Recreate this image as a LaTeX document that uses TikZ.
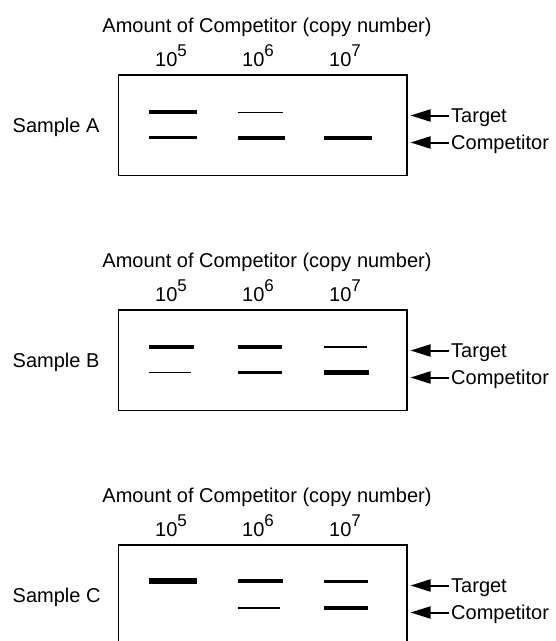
\documentclass[tikz,border=0pt]{standalone}
\usepackage{fontspec}
\setmainfont{Liberation Sans}
\usetikzlibrary{arrows.meta}
\newcommand{\sups}[1]{\raisebox{10pt}{\fontsize{17}{17}\selectfont #1}}
\newcommand{\bnd}[4]{\draw[band=#4] (#1,#3) -- (#2,#3);}
\newcommand{\gelpanel}[3]{%
  \begin{scope}[shift={(0,#1)}]
    \node[txt, anchor=base] (title#2) at (267,-43) {Amount of Competitor (copy number)};
    \node[txt, anchor=base west] (nfive#2) at (155,-9) {10\sups{5}};
    \node[txt, anchor=base west] (nsix#2) at (242,-9) {10\sups{6}};
    \node[txt, anchor=base west] (nseven#2) at (329,-9) {10\sups{7}};
    \node[gel, anchor=north west, minimum width=288.3pt, minimum height=100.7pt] (box#2) at (118.7,0) {};
    \node[txt, anchor=base west] (sample#2) at (12.5,57.5) {Sample #2};
    \node[side] (tlab#2) at (449,40.5) {Target};
    \node[side] (clab#2) at (449,67.5) {Competitor};
    \coordinate (ttip#2) at (410.5,40.5);
    \coordinate (ctip#2) at (410.5,67.5);
    \draw[ptr] (tlab#2.west) -- (ttip#2);
    \draw[ptr] (clab#2.west) -- (ctip#2);
    #3
  \end{scope}}
\begin{document}
\begin{tikzpicture}[x=1pt,y=-1pt,
  txt/.style={font=\fontsize{20}{24}\selectfont, inner sep=0pt},
  gel/.style={draw=black, line width=1.5pt, inner sep=0pt, outer sep=0pt},
  band/.style={line width=#1, line cap=butt},
  ptr/.style={line width=2pt, -{Triangle[length=20pt,width=12pt]}},
  side/.style={txt, anchor=west, inner xsep=2pt, text height=14.6pt, text depth=0pt},
]
\useasboundingbox (0,0) rectangle (556,641);
\clip (0,0) rectangle (556,641);
\fill[white] (0,0) rectangle (556,641);

\gelpanel{75}{A}{%
  \bnd{148.7}{196.7}{37}{3.3pt}
  \bnd{148.7}{196.7}{62.5}{3.3pt}
  \bnd{238}{283.3}{37.5}{1.7pt}
  \bnd{238}{285.3}{63}{4pt}
  \bnd{324}{372.3}{63}{4.5pt}
}
\gelpanel{310}{B}{%
  \bnd{148.7}{194.3}{37}{4.7pt}
  \bnd{149}{191}{62.5}{1.3pt}
  \bnd{238}{282}{37}{3.3pt}
  \bnd{238}{282}{62.5}{3.3pt}
  \bnd{324}{366.7}{37}{1.5pt}
  \bnd{324}{369.3}{62.5}{5pt}
}
\gelpanel{545}{C}{%
  \bnd{148.7}{196.7}{36}{6pt}
  \bnd{238}{283.3}{36}{4.5pt}
  \bnd{238}{280.3}{63}{1.3pt}
  \bnd{324}{368}{36.5}{3pt}
  \bnd{324}{368}{63}{3.3pt}
}
\end{tikzpicture}
\end{document}
